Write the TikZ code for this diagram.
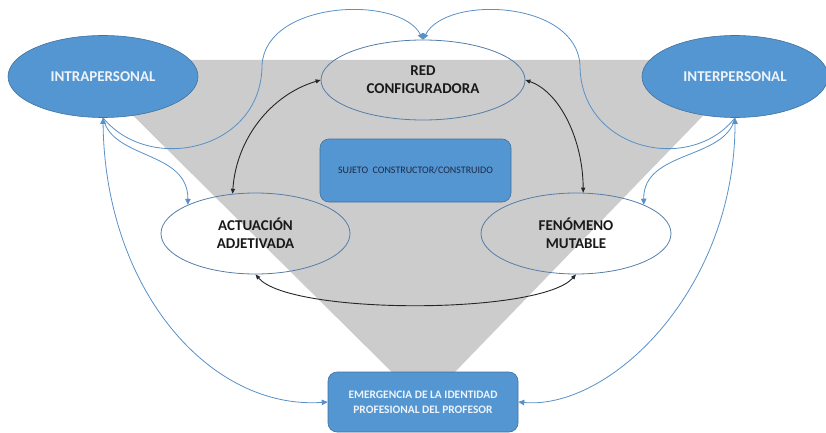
\documentclass[tikz,border=0pt]{standalone}
\usepackage{fontspec}
\setmainfont{Carlito}
\usetikzlibrary{arrows.meta,shapes.geometric}
\definecolor{boxblue}{RGB}{84,150,210}
\definecolor{boxedge}{RGB}{65,113,156}
\definecolor{linkblue}{RGB}{88,145,200}
\definecolor{trigrey}{RGB}{204,204,204}
\definecolor{ovaledge}{RGB}{85,125,170}
\definecolor{lighttext}{RGB}{238,243,250}
\definecolor{darktext}{RGB}{30,40,70}
\begin{document}
\begin{tikzpicture}[x=1pt,y=-1pt,
  bluefill/.style={ellipse, fill=boxblue, draw=boxedge, line width=0.6pt, minimum width=190pt, minimum height=82pt, inner sep=0pt, text=lighttext, font=\fontsize{15}{18}\selectfont\bfseries},
  oval/.style={ellipse, draw=ovaledge, line width=0.8pt, inner sep=0pt, align=center, text=black!90, font=\fontsize{15}{18}\selectfont\bfseries},
  bluebox/.style={rectangle, rounded corners=9pt, fill=boxblue, draw=boxedge, line width=0.6pt, inner sep=0pt, align=center},
  link/.style={draw=linkblue, line width=0.8pt, -{Triangle[length=6pt,width=5.5pt]}},
  linkboth/.style={draw=linkblue, line width=0.8pt, {Triangle[length=6pt,width=5.5pt]}-{Triangle[length=6pt,width=5.5pt]}},
  dark/.style={draw=black!85, line width=0.9pt, {Triangle[length=5pt,width=4pt]}-{Triangle[length=5pt,width=4pt]}}
]
\useasboundingbox (0,0) rectangle (826,433);
\fill[trigrey] (77,60) -- (757,60) -- (424,404) -- cycle;

\node[bluefill] (intra) at (103,76.5) {INTRAPERSONAL};
\node[bluefill, minimum width=186pt] (inter) at (735,76.5) {INTERPERSONAL};
\node[oval, minimum width=204pt, minimum height=80pt] (red) at (423,80) {RED\\CONFIGURADORA};
\node[oval, minimum width=189pt, minimum height=81pt] (act) at (255.5,233.5) {ACTUACIÓN\\ADJETIVADA};
\node[oval, minimum width=190pt, minimum height=81pt] (fen) at (576,233.5) {FENÓMENO\\MUTABLE};
\node[bluebox, minimum width=191pt, minimum height=63pt, text=darktext, font=\fontsize{10}{12}\selectfont] (suj) at (415.5,170.5) {SUJETO\ \ CONSTRUCTOR/CONSTRUIDO};
\node[bluebox, minimum width=190pt, minimum height=60pt, text=lighttext, font=\fontsize{11.4}{15}\selectfont\bfseries] (emer) at (423,402) {EMERGENCIA DE LA IDENTIDAD\\PROFESIONAL DEL PROFESOR};

\draw[link] (intra.south) .. controls (150,175) and (262,150) .. (262,65) .. controls (266,0) and (400,-5) .. (red.north);
\draw[link] (inter.south) .. controls (690,175) and (580,150) .. (580,65) .. controls (576,0) and (446,-5) .. (red.north);
\draw[link] (intra.south) .. controls (112,160) and (188,150) .. (act.157);
\draw[link] (inter.south) .. controls (726,160) and (643,150) .. (fen.23);
\draw[linkboth] (intra.south) .. controls (105,290) and (210,410) .. (emer.west);
\draw[linkboth] (inter.south) .. controls (735,290) and (610,410) .. (emer.east);

\draw[dark] (act.120) .. controls (236,140) and (270,95) .. (red.west);
\draw[dark] (red.east) .. controls (560,92) and (583,140) .. (fen.80);
\draw[dark] (act.south) .. controls (290,315) and (540,315) .. (fen.south);
\end{tikzpicture}
\end{document}
